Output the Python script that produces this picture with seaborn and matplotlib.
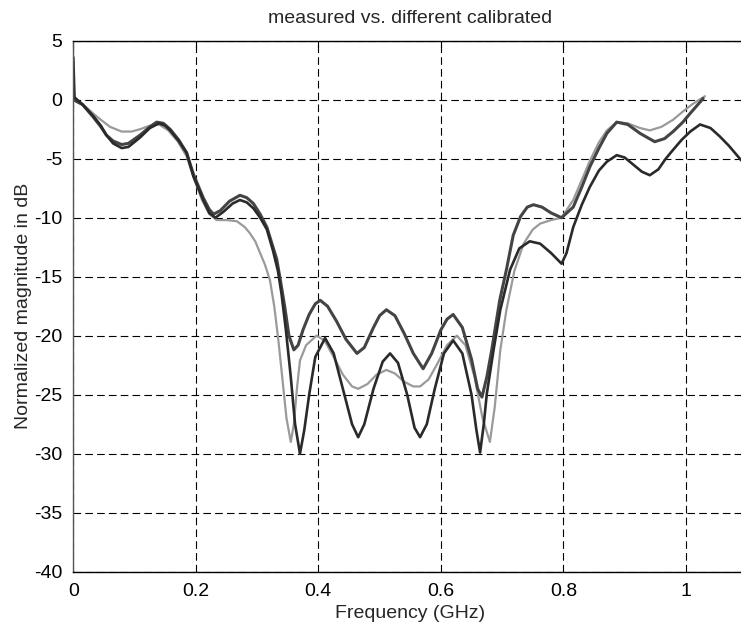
import matplotlib
matplotlib.use("Agg")
import matplotlib.pyplot as plt
import seaborn as sns

# Frequency response traces (frequency in GHz, magnitude in dB)
meas_f = [0, 0.015, 0.033, 0.045, 0.054, 0.065, 0.079, 0.09, 0.109, 0.125, 0.136,
          0.147, 0.158, 0.172, 0.185, 0.196, 0.212, 0.222, 0.229, 0.24, 0.255, 0.272,
          0.283, 0.294, 0.305, 0.316, 0.326, 0.332, 0.338, 0.345, 0.352, 0.36, 0.367,
          0.375, 0.385, 0.395, 0.403, 0.415, 0.43, 0.445, 0.463, 0.475, 0.49, 0.5,
          0.511, 0.525, 0.54, 0.555, 0.571, 0.585, 0.6, 0.61, 0.62, 0.635, 0.65,
          0.66, 0.667, 0.675, 0.683, 0.696, 0.707, 0.718, 0.73, 0.741, 0.751, 0.765,
          0.78, 0.797, 0.816, 0.83, 0.843, 0.858, 0.871, 0.887, 0.905, 0.925, 0.949,
          0.965, 0.979, 0.995, 1.007, 1.018, 1.028]
meas_db = [0, -0.4, -1.5, -2.3, -3.0, -3.5, -3.8, -3.7, -3.0, -2.3, -1.9,
           -2.0, -2.5, -3.4, -4.5, -6.3, -8.3, -9.3, -9.7, -9.4, -8.6, -8.1,
           -8.3, -8.8, -9.7, -10.8, -12.5, -13.5, -15.3, -17.5, -20.0, -21.2, -20.8,
           -19.5, -18.2, -17.3, -17.0, -17.5, -18.8, -20.3, -21.5, -21.0, -19.3, -18.3,
           -17.8, -18.3, -19.8, -21.5, -22.8, -21.5, -19.5, -18.6, -18.2, -19.3, -22.0,
           -24.5, -25.2, -23.5, -21.2, -17.0, -14.4, -11.5, -9.9, -9.1, -8.9, -9.1,
           -9.6, -10.0, -9.1, -7.4, -5.7, -4.1, -2.85, -1.9, -2.1, -2.85, -3.56,
           -3.3, -2.7, -1.9, -1.15, -0.5, 0.1]

cal1_f = [0, 0.02, 0.04, 0.06, 0.079, 0.095, 0.109, 0.125, 0.14, 0.155, 0.17,
          0.185, 0.196, 0.21, 0.222, 0.234, 0.25, 0.267, 0.28, 0.288, 0.297, 0.305,
          0.313, 0.321, 0.328, 0.335, 0.342, 0.348, 0.355, 0.36, 0.365, 0.37, 0.38,
          0.397, 0.41, 0.425, 0.44, 0.455, 0.465, 0.48, 0.495, 0.511, 0.525, 0.54,
          0.555, 0.566, 0.58, 0.595, 0.61, 0.626, 0.64, 0.655, 0.668, 0.68, 0.688,
          0.697, 0.707, 0.72, 0.735, 0.75, 0.762, 0.78, 0.797, 0.816, 0.83, 0.843,
          0.858, 0.871, 0.887, 0.905, 0.925, 0.941, 0.96, 0.979, 0.995, 1.01, 1.031]
cal1_db = [0, -0.6, -1.5, -2.3, -2.7, -2.7, -2.5, -2.2, -2.1, -2.6, -3.5,
           -4.8, -6.5, -8.5, -9.7, -10.2, -10.2, -10.3, -10.8, -11.3, -12.0, -13.0,
           -14.0, -15.3, -17.5, -20.5, -24.0, -27.0, -29.0, -27.5, -24.5, -22.1, -20.8,
           -20.0, -20.4, -21.8, -23.3, -24.3, -24.5, -24.1, -23.3, -22.9, -23.2, -23.9,
           -24.3, -24.3, -23.7, -22.3, -20.8, -20.0, -20.8, -23.5, -27.0, -29.0, -26.0,
           -21.2, -17.8, -14.5, -12.2, -11.0, -10.5, -10.2, -10.0, -8.5, -6.8, -5.2,
           -3.6, -2.6, -1.9, -2.0, -2.4, -2.6, -2.3, -1.7, -1.0, -0.4, 0.3]

cal2_f = [0, 0.002, 0.015, 0.033, 0.045, 0.054, 0.065, 0.079, 0.09, 0.109, 0.125,
          0.14, 0.15, 0.158, 0.172, 0.185, 0.196, 0.212, 0.222, 0.232, 0.245, 0.26,
          0.272, 0.283, 0.294, 0.305, 0.316, 0.326, 0.334, 0.34, 0.347, 0.355, 0.362,
          0.37, 0.377, 0.385, 0.395, 0.411, 0.425, 0.44, 0.455, 0.465, 0.475, 0.49,
          0.505, 0.517, 0.53, 0.545, 0.557, 0.566, 0.577, 0.59, 0.605, 0.62, 0.635,
          0.65, 0.658, 0.664, 0.67, 0.675, 0.686, 0.697, 0.713, 0.728, 0.745, 0.762,
          0.78, 0.797, 0.805, 0.816, 0.83, 0.843, 0.858, 0.871, 0.887, 0.9, 0.914,
          0.928, 0.941, 0.955, 0.967, 0.979, 0.993, 1.007, 1.023, 1.04, 1.055, 1.07,
          1.088, 1.1]
cal2_db = [3.6, 0.2, -0.4, -1.4, -2.2, -3.0, -3.7, -4.1, -4.0, -3.2, -2.4,
           -2.0, -2.2, -2.6, -3.5, -4.5, -6.5, -8.5, -9.6, -10.0, -9.5, -8.8,
           -8.5, -8.7, -9.2, -10.0, -11.0, -12.8, -14.5, -16.5, -19.5, -23.5, -27.5,
           -30.0, -28.0, -25.0, -21.8, -20.2, -21.5, -24.5, -27.5, -28.6, -27.5, -24.5,
           -22.2, -21.5, -22.3, -25.0, -27.8, -28.6, -27.5, -24.5, -21.5, -20.4, -21.5,
           -25.0, -28.0, -29.9, -27.5, -24.9, -21.2, -17.8, -14.4, -12.6, -12.0, -12.2,
           -13.0, -13.9, -13.0, -10.8, -8.9, -7.4, -6.0, -5.25, -4.7, -4.9, -5.5,
           -6.1, -6.4, -5.9, -5.0, -4.25, -3.4, -2.7, -2.1, -2.4, -3.1, -3.9,
           -5.0, -5.7]

x_ticks = [0, 0.2, 0.4, 0.6, 0.8, 1.0]
x_tick_labels = ["0", "0.2", "0.4", "0.6", "0.8", "1"]
y_ticks = [5, 0, -5, -10, -15, -20, -25, -30, -35, -40]

sns.set_style("white")
plt.rcParams["font.family"] = ["Liberation Sans", "DejaVu Sans"]
plt.rcParams["axes.unicode_minus"] = False
plt.rcParams["lines.scale_dashes"] = False

fig = plt.figure(figsize=(7.41, 6.30), dpi=100)
ax = fig.add_axes([0.0989, 0.0925, 0.9095, 0.8429])

sns.lineplot(x=cal1_f, y=cal1_db, ax=ax, color="#9a9a9a", lw=1.6,
             estimator=None, sort=False)
sns.lineplot(x=meas_f, y=meas_db, ax=ax, color="#444444", lw=2.2,
             estimator=None, sort=False)
sns.lineplot(x=cal2_f, y=cal2_db, ax=ax, color="#2a2a2a", lw=1.9,
             estimator=None, sort=False)

ax.set_xlim(0, 1.1)
ax.set_ylim(-40, 5)
ax.set_xticks(x_ticks)
ax.set_xticklabels(x_tick_labels)
ax.set_yticks(y_ticks)
ax.set_yticklabels([str(v) for v in y_ticks])

ax.set_axisbelow(True)
ax.grid(True, color="black", linestyle=(0, (5.5, 3.0)), linewidth=0.8)

for side in ("left", "bottom", "top", "right"):
    ax.spines[side].set_color("black")
    ax.spines[side].set_linewidth(1.0)
ax.spines["left"].set_color("#555555")

ax.tick_params(direction="in", top=True, right=True, length=5, width=0.8,
               labelsize=14, pad=8, colors="black")

ax.set_title("measured vs. different calibrated", fontsize=14, pad=13)
ax.set_xlabel("Frequency (GHz)", fontsize=14, labelpad=4)
ax.set_ylabel("Normalized magnitude in dB", fontsize=14, labelpad=1)

fig.savefig("out.png", dpi=100, facecolor="white")
